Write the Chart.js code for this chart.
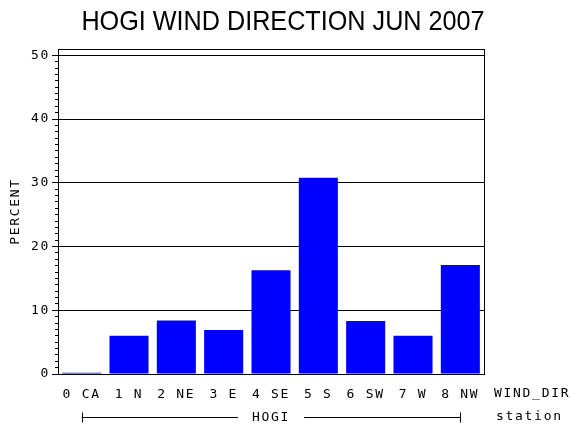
<!DOCTYPE html>
<html>
<head>
<meta charset="utf-8">
<script src="https://cdn.jsdelivr.net/npm/chart.js@4/dist/chart.umd.min.js"></script>
<style>
  html, body { margin: 0; padding: 0; background: #fff; }
  #chart { display: block; }
</style>
</head>
<body>
<canvas id="chart" width="570" height="430"></canvas>
<script>
// values
const titleText = 'HOGI WIND DIRECTION JUN 2007';
const directions = ['0 CA', '1 N', '2 NE', '3 E', '4 SE', '5 S', '6 SW', '7 W', '8 NW'];
const percent = [0.2, 6.0, 8.4, 6.9, 16.3, 30.8, 8.3, 6.0, 17.1];
const yTicks = [0, 10, 20, 30, 40, 50];
const yMax = 51;
const stationName = 'HOGI';
const xVarLabel = 'WIND_DIR';
const groupVarLabel = 'station';

const monoFont = { family: 'DejaVu Sans Mono', size: 13 };
const LETTER_SP = '1.7px';

const sasDecor = {
    id: 'sasDecor',
    beforeDraw(chart) {
        chart.ctx.letterSpacing = LETTER_SP;
    },
    afterDatasetsDraw(chart) {
        const ctx = chart.ctx;
        const a = chart.chartArea;
        const y = chart.scales.y;
        const px = v => Math.round(v - 0.5) + 0.5;
        ctx.save();
        ctx.strokeStyle = '#000';
        ctx.lineWidth = 1;
        // frame round the plot
        ctx.strokeRect(px(a.left), px(a.top), px(a.right) - px(a.left), px(a.bottom) - px(a.top));
        // minor ticks, one per unit
        ctx.beginPath();
        for (let v = 1; v < yTicks[yTicks.length - 1]; v++) {
            if (v % 10 === 0) continue;
            const yy = px(y.getPixelForValue(v));
            ctx.moveTo(a.left - 3, yy);
            ctx.lineTo(px(a.left), yy);
        }
        ctx.stroke();
        ctx.restore();
    },
    afterDraw(chart) {
        const ctx = chart.ctx;
        const a = chart.chartArea;
        const x = chart.scales.x;
        ctx.save();
        ctx.fillStyle = '#000';
        ctx.strokeStyle = '#000';
        ctx.lineWidth = 1;

        // title, a bit narrow like the original
        ctx.letterSpacing = '0px';
        ctx.font = '28px "Liberation Sans", Arial, sans-serif';
        ctx.textAlign = 'center';
        ctx.textBaseline = 'alphabetic';
        ctx.save();
        ctx.translate(283, 30);
        ctx.scale(0.9, 1);
        ctx.fillText(titleText, 0, 0);
        ctx.restore();

        // variable names on the right
        ctx.letterSpacing = LETTER_SP;
        ctx.font = monoFont.size + 'px "' + monoFont.family + '", monospace';
        ctx.textAlign = 'left';
        ctx.textBaseline = 'middle';
        ctx.fillText(xVarLabel, a.right + 10, a.bottom + 20);
        ctx.fillText(groupVarLabel, a.right + 12, a.bottom + 43);

        // bracket under the categories, broken round the station name
        const x0 = x.getPixelForValue(0);
        const x1 = x.getPixelForValue(directions.length - 1);
        const yb = Math.round(a.bottom + 43) + 0.5;
        const mid = (a.left + a.right) / 2;
        const half = ctx.measureText(stationName).width / 2 + 14;
        ctx.beginPath();
        ctx.moveTo(x0, yb); ctx.lineTo(mid - half, yb);
        ctx.moveTo(mid + half, yb); ctx.lineTo(x1, yb);
        ctx.moveTo(Math.round(x0) + 0.5, yb - 5); ctx.lineTo(Math.round(x0) + 0.5, yb + 5);
        ctx.moveTo(Math.round(x1) + 0.5, yb - 5); ctx.lineTo(Math.round(x1) + 0.5, yb + 5);
        ctx.stroke();
        ctx.restore();
    }
};

const chart = new Chart(document.getElementById('chart'), {
    type: 'bar',
    data: {
        labels: directions,
        datasets: [{
            label: 'PERCENT',
            data: percent,
            backgroundColor: '#0000ff',
            borderWidth: 0,
            categoryPercentage: 1,
            barPercentage: 0.825,
        }]
    },
    options: {
        responsive: false,
        animation: false,
        devicePixelRatio: 1,
        layout: { padding: { left: 0, right: 86, top: 49, bottom: 0 } },
        scales: {
            x: {
                grid: { display: false, drawTicks: false },
                border: { color: '#000', width: 1 },
                ticks: { color: '#000', font: monoFont, padding: 13, maxRotation: 0, autoSkip: false },
                title: { display: true, text: stationName, color: '#000', font: monoFont, padding: { top: 0, bottom: 5 } },
                afterFit: s => { s.height = 56; s.paddingLeft = 0; s.paddingRight = 0; },
            },
            y: {
                min: 0,
                max: yMax,
                afterBuildTicks: s => { s.ticks = yTicks.map(v => ({ value: v })); },
                grid: { color: '#000', lineWidth: 1, drawTicks: true, tickLength: 6, tickColor: '#000' },
                border: { color: '#000', width: 1 },
                ticks: { color: '#000', font: monoFont, padding: 2 },
                title: { display: true, text: 'PERCENT', color: '#000', font: monoFont, padding: { top: 8, bottom: 0 } },
                afterFit: s => { s.width = 58; s.paddingTop = 0; s.paddingBottom = 0; },
            }
        },
        plugins: {
            legend: { display: false },
            title: { display: false },
            tooltip: { enabled: false },
        }
    },
    plugins: [sasDecor]
});
</script>
</body>
</html>
